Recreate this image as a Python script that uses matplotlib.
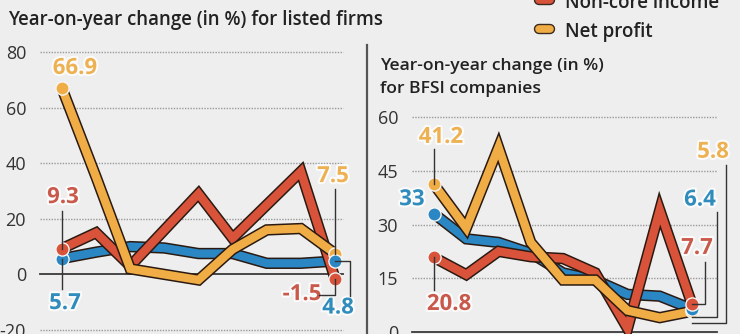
"""Two-panel line chart: year-on-year growth for listed firms and BFSI companies."""
import numpy as np
import matplotlib
matplotlib.use("Agg")
import matplotlib.pyplot as plt
import matplotlib.patheffects as pe
from matplotlib.lines import Line2D
from matplotlib.patches import Rectangle
from matplotlib.transforms import IdentityTransform

plt.rcParams["font.family"] = ["Open Sans", "DejaVu Sans"]

W, H, DPI = 754, 334, 100

BLUE = "#2b87c3"
RED = "#d8533a"
YELLOW = "#f1ad45"
BLUE_TXT = "#2f8cbc"
RED_TXT = "#c9594a"
YELLOW_TXT = "#eeb151"
INK = "#222222"
BG = "#eeeeee"
OUTLINE = "#2a1a12"

# nine consecutive quarters, oldest first
periods = np.arange(9)

listed_revenue = [5.7, 8.0, 10.0, 9.5, 7.5, 7.5, 4.0, 4.0, 4.8]
listed_noncore = [9.3, 15.0, 3.0, 16.0, 29.0, 13.0, 25.0, 37.0, -1.5]
listed_profit = [66.9, 35.0, 2.0, 0.0, -2.0, 9.0, 16.0, 16.5, 7.5]
listed_yticks = [-20, 0, 20, 40, 60, 80]

bfsi_revenue = [33.0, 26.0, 25.0, 22.0, 16.5, 14.5, 10.5, 10.0, 6.4]
bfsi_noncore = [20.8, 16.0, 22.5, 21.0, 20.5, 16.5, 1.0, 34.0, 7.7]
bfsi_profit = [41.2, 29.0, 51.5, 25.0, 14.5, 14.5, 6.0, 4.0, 5.8]
bfsi_yticks = [0, 15, 30, 45, 60]

legend_labels = ["Non-core income", "Net profit"]


def px_box(x0, y0, x1, y1):
    """Figure rectangle from image pixel edges (y measured from the top)."""
    return [x0 / W, (H - y1) / H, (x1 - x0) / W, (y1 - y0) / H]


def fmt(v):
    return f"{v:g}"


def setup(ax, yticks, ylim, xlim):
    ax.set_facecolor("none")
    ax.set_xlim(*xlim)
    ax.set_ylim(*ylim)
    for s in ax.spines.values():
        s.set_visible(False)
    ax.set_xticks([])
    ax.set_yticks(yticks)
    ax.set_yticklabels([fmt(t) for t in yticks], fontsize=13, color="#333333")
    ax.tick_params(axis="y", length=0, pad=10)
    for t in yticks:
        if t == 0:
            ax.axhline(0, color="#3a3a3a", lw=1.3, zorder=1, clip_on=False)
        else:
            ax.axhline(t, color="#9a9a9a", lw=1.0, ls=(0, (1, 1)), zorder=1, clip_on=False)


def series(ax, values, color):
    ax.plot(periods, values, color=color, lw=6.0, solid_joinstyle="miter",
            solid_capstyle="butt", zorder=3, clip_on=False,
            path_effects=[pe.Stroke(linewidth=8.2, foreground=OUTLINE), pe.Normal()])


def dot(ax, i, values, color, z=5):
    ax.plot(periods[i], values[i], "o", ms=9.5, mfc=color, mec="#f6f6f6", mew=1.0,
            zorder=z, clip_on=False)


def label(ax, i, values, color, off):
    ax.annotate(fmt(values[i]), (periods[i], values[i]), xytext=(off[0], -off[1]),
                textcoords="offset pixels", ha="center", va="center",
                fontsize=16, fontweight="bold", color=color, zorder=7,
                annotation_clip=False,
                path_effects=[pe.withStroke(linewidth=3, foreground="#fbfbfb")])


def leader(ax, i, values, steps):
    """Connector drawn in pixel offsets from a data point (image y down)."""
    x0, y0 = ax.transData.transform((periods[i], values[i]))
    xs = [x0 + dx for dx, dy in steps]
    ys = [y0 - dy for dx, dy in steps]
    fig.add_artist(Line2D(xs, ys, transform=IdentityTransform(), color="#333333",
                          lw=1.0, zorder=2))


fig = plt.figure(figsize=(W / DPI, H / DPI), dpi=DPI)
fig.patch.set_facecolor("white")
fig.add_artist(Rectangle((0, 0), 740 / W, 1, transform=fig.transFigure,
                         facecolor=BG, edgecolor="none", zorder=0))

# divider between the panels
fig.add_artist(Line2D([367 / W, 367 / W], [0, (H - 45) / H], transform=fig.transFigure,
                      color="#555555", lw=1.6))

fig.text(8 / W, (H - 25) / H, "Year-on-year change (in %) for listed firms",
         fontsize=13.4, fontweight="semibold", color=INK, va="baseline", ha="left")
fig.text(380 / W, (H - 70) / H, "Year-on-year change (in %)",
         fontsize=12.6, fontweight="semibold", color=INK, va="baseline", ha="left")
fig.text(380 / W, (H - 93) / H, "for BFSI companies",
         fontsize=12.6, fontweight="semibold", color=INK, va="baseline", ha="left")

# legend (top of it runs off the frame)
for (text, color), base in zip(zip(legend_labels, [RED, YELLOW]), [8, 37]):
    fig.text(565 / W, (H - base) / H, text, fontsize=13.5, fontweight="semibold",
             color=INK, va="baseline", ha="left")
    yk = (H - base + 8) / H
    fig.add_artist(Line2D([539 / W, 550 / W], [yk, yk], transform=fig.transFigure,
                          color=color, lw=5.5, solid_capstyle="round",
                          path_effects=[pe.Stroke(linewidth=7.5, foreground="#3a2a20",
                                                  capstyle="round"), pe.Normal()]))

# left panel: listed firms
ax1 = fig.add_axes(px_box(40, 52, 343, 330))
setup(ax1, listed_yticks, (-20, 80), (-22 / 34.125, 8 + 8 / 34.125))
series(ax1, listed_revenue, BLUE)
series(ax1, listed_noncore, RED)
series(ax1, listed_profit, YELLOW)

# right panel: BFSI companies
ax2 = fig.add_axes(px_box(412, 117, 717, 332))
setup(ax2, bfsi_yticks, (0, 60), (-22 / 32.25, 8 + 25 / 32.25))
series(ax2, bfsi_revenue, BLUE)
series(ax2, bfsi_noncore, RED)
series(ax2, bfsi_profit, YELLOW)

# connectors
leader(ax1, 0, listed_noncore, [(0, -38), (0, 0)])
leader(ax1, 0, listed_revenue, [(0, 0), (0, 30)])
leader(ax1, 8, listed_profit, [(0, -65), (0, 0)])
leader(ax1, 8, listed_noncore, [(0, 0), (0, 16), (-16, 16)])
leader(ax1, 8, listed_revenue, [(0, 0), (15, 0), (15, 35)])

leader(ax2, 0, bfsi_profit, [(0, -35), (0, 0)])
leader(ax2, 0, bfsi_noncore, [(0, 0), (0, 33)])
leader(ax2, 8, bfsi_profit, [(0, 12), (34, 12), (34, -146)])
leader(ax2, 8, bfsi_revenue, [(0, 8), (25, 8), (25, -97)])
leader(ax2, 8, bfsi_noncore, [(0, 0), (13, 0), (13, -42)])

# end-point dots
for ax, rev, nc, pr in [(ax1, listed_revenue, listed_noncore, listed_profit),
                        (ax2, bfsi_revenue, bfsi_noncore, bfsi_profit)]:
    for i in (0, 8):
        dot(ax, i, pr, YELLOW)
        dot(ax, i, rev, BLUE)
        dot(ax, i, nc, RED)

# value labels
label(ax1, 0, listed_profit, YELLOW_TXT, (13, -20))
label(ax1, 0, listed_noncore, RED_TXT, (1, -51))
label(ax1, 0, listed_revenue, BLUE_TXT, (3, 45))
label(ax1, 8, listed_profit, YELLOW_TXT, (-2, -77))
label(ax1, 8, listed_noncore, RED_TXT, (-33, 16))
label(ax1, 8, listed_revenue, BLUE_TXT, (3, 47))

label(ax2, 0, bfsi_profit, YELLOW_TXT, (7, -47))
label(ax2, 0, bfsi_revenue, BLUE_TXT, (-22, -14))
label(ax2, 0, bfsi_noncore, RED_TXT, (15, 47))
label(ax2, 8, bfsi_profit, YELLOW_TXT, (21, -159))
label(ax2, 8, bfsi_revenue, BLUE_TXT, (8, -109))
label(ax2, 8, bfsi_noncore, RED_TXT, (5, -56))

fig.savefig("out.png", dpi=DPI)
